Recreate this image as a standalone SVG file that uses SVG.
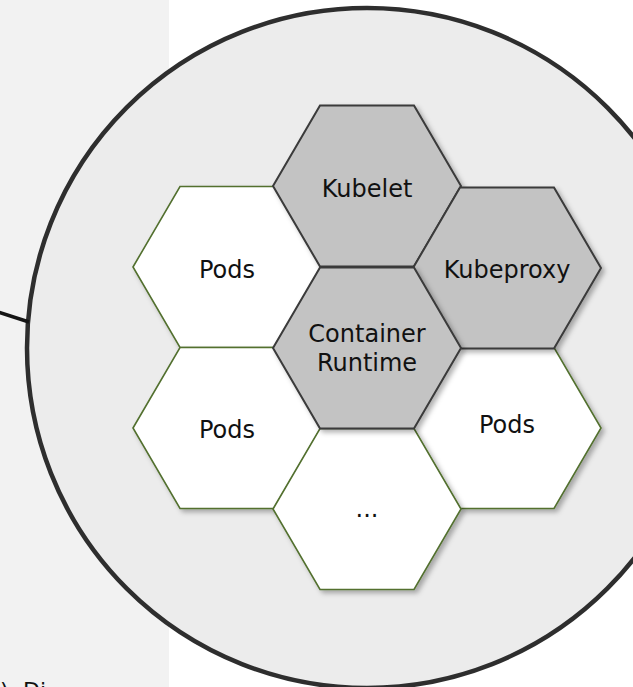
<svg xmlns="http://www.w3.org/2000/svg" width="633" height="687" viewBox="0 0 633 687">
  <style>
    .lbl { font-family: "DejaVu Sans", "Liberation Sans", sans-serif; font-size: 24px; fill: #111; text-anchor: middle; }
    .pod { fill: #ffffff; stroke: #52702f; stroke-width: 1.6; }
    .core { fill: #c3c3c3; stroke: #3a3a3a; stroke-width: 2; }
  </style>
  <defs>
    <polygon id="hex" points="-94,0 -47,-80.5 47,-80.5 94,0 47,80.5 -47,80.5"/>
    <filter id="shadow" x="-20%" y="-20%" width="150%" height="150%">
      <feDropShadow dx="3" dy="3" stdDeviation="2.5" flood-color="#000" flood-opacity="0.3"/>
    </filter>
  </defs>

  <!-- page background: grey side panel on the left -->
  <rect x="0" y="0" width="633" height="687" fill="#ffffff"/>
  <rect x="0" y="0" width="169" height="687" fill="#f2f2f2"/>
  <text x="0" y="698" font-family="DejaVu Sans, Liberation Sans, sans-serif" font-size="22" fill="#111">): Di</text>

  <!-- node boundary -->
  <circle id="node-circle" cx="367" cy="348" r="340" fill="#ececec" stroke="#2e2e2e" stroke-width="4.5"/>

  <g id="connectors">
    <line x1="-2" y1="312" x2="29" y2="322" stroke="#151515" stroke-width="3.5"/>
  </g>

  <!-- pod slots -->
  <g id="pods-1" transform="translate(227,267)">
    <use href="#hex" class="pod" filter="url(#shadow)"/>
    <text class="lbl" x="0" y="11">Pods</text>
  </g>
  <g id="pods-2" transform="translate(227,428)">
    <use href="#hex" class="pod" filter="url(#shadow)"/>
    <text class="lbl" x="0" y="10">Pods</text>
  </g>
  <g id="pods-3" transform="translate(507,428)">
    <use href="#hex" class="pod" filter="url(#shadow)"/>
    <text class="lbl" x="0" y="5">Pods</text>
  </g>
  <g id="more" transform="translate(367,509)">
    <use href="#hex" class="pod" filter="url(#shadow)"/>
    <text class="lbl" x="0" y="8">...</text>
  </g>

  <!-- node components -->
  <g id="kubelet" transform="translate(367,186)">
    <use href="#hex" class="core" filter="url(#shadow)"/>
    <text class="lbl" x="0" y="11">Kubelet</text>
  </g>
  <g id="kubeproxy" transform="translate(507,268)">
    <use href="#hex" class="core" filter="url(#shadow)"/>
    <text class="lbl" x="0" y="10">Kubeproxy</text>
  </g>
  <g id="container-runtime" transform="translate(367,348)">
    <use href="#hex" class="core" filter="url(#shadow)"/>
    <text class="lbl" x="0" y="-6">Container</text>
    <text class="lbl" x="0" y="23">Runtime</text>
  </g>
</svg>
